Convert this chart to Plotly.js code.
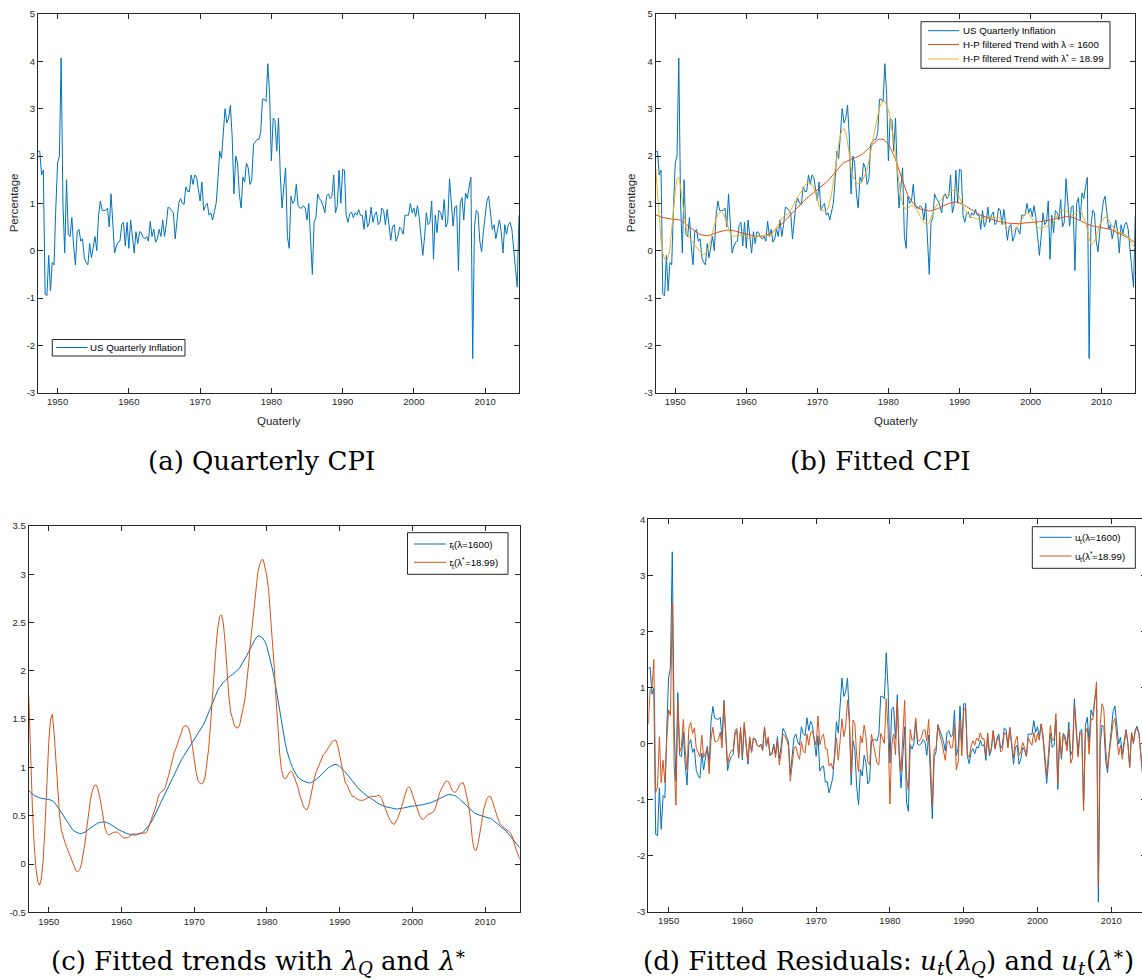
<!DOCTYPE html>
<html>
<head>
<meta charset="utf-8">
<script src="https://cdn.plot.ly/plotly-3.0.1.min.js"></script>
<style>
  html, body { margin: 0; padding: 0; overflow: hidden; background: #ffffff; }
  #fig { width: 1160px; height: 980px; }
</style>
</head>
<body>
<div id="fig"></div>
<script>
// US quarterly CPI inflation (%), 1947Q2 .. 2014Q4, one row per year
const inflation = [
  2.1, 2.1, 1.6,
  1.7, -0.92, -0.95, -0.1,
  -0.85, -0.25, -0.3, 0.9,
  1.85, 2.0, 4.07, 1.0,
  -0.05, 1.5, 0.35, 0.3,
  0.7, 0.1, -0.3, 0.4,
  0.45, 0.2, 0.25, -0.15,
  -0.25, -0.3, 0.15, -0.15,
  0.05, 0.3, 0.0, 0.75,
  1.05, 0.85, 0.85, 0.85,
  0.9, 0.5, 1.2, 0.6,
  -0.05, 0.1, 0.18, 0.2,
  0.55, 0.6, 0.1, 0.6,
  0.05, 0.65, 0.3, -0.05,
  0.4, 0.15, 0.4, 0.38,
  0.28, 0.25, 0.3, 0.2,
  0.62, 0.3, 0.45, 0.18,
  0.25, 0.45, 0.3, 0.65,
  0.3, 0.55, 0.92, 0.9,
  0.85, 0.8, 0.25, 0.6,
  1.0, 1.1, 1.0, 0.98,
  1.35, 1.25, 1.25, 1.6,
  1.4, 1.6, 1.55, 1.3,
  1.05, 1.45, 0.85, 0.95,
  1.0, 0.75, 0.8, 0.65,
  0.85, 1.0, 1.5, 2.1,
  1.95, 2.5, 3.0, 2.7,
  2.8, 3.07, 2.4, 1.2,
  2.0, 1.85, 1.2, 0.9,
  1.55, 1.45, 1.85, 1.75,
  1.4, 1.5, 2.25, 2.3,
  2.35, 2.35, 2.5, 3.2,
  3.2, 3.15, 3.95, 3.3,
  1.9, 2.8, 2.75, 2.1,
  2.8, 1.6, 0.9, 1.35,
  1.75, 0.3, 0.05, 1.15,
  1.0, 1.05, 1.4, 0.95,
  0.9, 0.9, 0.95, 0.9,
  0.65, 1.0, 0.3, -0.5,
  0.6, 0.7, 1.2, 1.1,
  1.05, 0.95, 0.8, 1.15,
  1.2, 1.1, 1.15, 1.6,
  0.8, 0.95, 1.7, 1.0,
  1.72, 1.7, 0.75, 0.6,
  0.78, 0.82, 0.7, 0.8,
  0.75, 0.87, 0.75, 0.75,
  0.45, 0.85, 0.5, 0.6,
  0.92, 0.6, 0.75, 0.82,
  0.55, 0.6, 0.9, 0.85,
  0.55, 0.87, 0.55, 0.22,
  0.5, 0.55, 0.2, 0.3,
  0.5, 0.45, 0.35, 0.75,
  0.75, 0.75, 1.0, 0.8,
  0.9, 0.72, 0.95, 0.7,
  0.3, -0.1, 0.3, 0.8,
  0.55, 0.6, 1.05, -0.18,
  0.75, 0.38, 0.85, 0.8,
  0.65, 1.08, 0.5, 0.6,
  1.52, 1.0, 0.52, 0.92,
  0.95, -0.42, 1.0, 1.12,
  0.65, 1.22, 1.1, 1.35,
  1.55, -2.28, 0.5, 0.85,
  0.8, 0.2, -0.02, 0.4,
  0.8, 1.05, 1.15, 0.8,
  0.45, 0.55, 0.25, 0.45,
  0.65, 0.4, -0.05, 0.55,
  0.35, 0.55, 0.6, 0.45,
  0.0, -0.45, -0.77, 0.75
];

// H-P trend, lambda = 1600
const trend1600 = [
  0.76, 0.74, 0.72,
  0.71, 0.70, 0.69, 0.685,
  0.68, 0.675, 0.67, 0.67,
  0.67, 0.665, 0.655, 0.64,
  0.62, 0.59, 0.56, 0.53,
  0.50, 0.47, 0.44, 0.41,
  0.38, 0.36, 0.34, 0.33,
  0.32, 0.315, 0.315, 0.32,
  0.33, 0.345, 0.36, 0.375,
  0.39, 0.40, 0.415, 0.425,
  0.43, 0.435, 0.435, 0.435,
  0.43, 0.42, 0.41, 0.40,
  0.39, 0.375, 0.36, 0.35,
  0.34, 0.33, 0.32, 0.315,
  0.31, 0.305, 0.30, 0.30,
  0.30, 0.305, 0.31, 0.32,
  0.33, 0.35, 0.37, 0.395,
  0.42, 0.455, 0.49, 0.53,
  0.57, 0.61, 0.65, 0.69,
  0.73, 0.77, 0.81, 0.85,
  0.89, 0.93, 0.97, 1.01,
  1.05, 1.08, 1.11, 1.14,
  1.17, 1.20, 1.23, 1.255,
  1.28, 1.31, 1.34, 1.37,
  1.40, 1.44, 1.48, 1.525,
  1.57, 1.62, 1.67, 1.715,
  1.76, 1.80, 1.83, 1.86,
  1.88, 1.90, 1.92, 1.935,
  1.95, 1.96, 1.975, 1.99,
  2.01, 2.03, 2.06, 2.09,
  2.12, 2.16, 2.20, 2.24,
  2.28, 2.31, 2.34, 2.36,
  2.36, 2.35, 2.33, 2.30,
  2.25, 2.18, 2.10, 2.02,
  1.93, 1.81, 1.69, 1.57,
  1.45, 1.35, 1.26, 1.17,
  1.10, 1.05, 1.00, 0.96,
  0.93, 0.90, 0.88, 0.87,
  0.86, 0.85, 0.845, 0.84,
  0.84, 0.85, 0.86, 0.875,
  0.89, 0.91, 0.93, 0.95,
  0.97, 0.985, 1.0, 1.01,
  1.02, 1.03, 1.03, 1.025,
  1.01, 0.995, 0.975, 0.955,
  0.93, 0.905, 0.88, 0.855,
  0.83, 0.81, 0.79, 0.77,
  0.75, 0.735, 0.72, 0.705,
  0.69, 0.68, 0.67, 0.655,
  0.64, 0.63, 0.62, 0.61,
  0.60, 0.595, 0.59, 0.585,
  0.58, 0.575, 0.57, 0.57,
  0.57, 0.57, 0.575, 0.58,
  0.585, 0.59, 0.595, 0.60,
  0.60, 0.60, 0.605, 0.61,
  0.61, 0.61, 0.615, 0.62,
  0.62, 0.625, 0.63, 0.64,
  0.65, 0.66, 0.67, 0.68,
  0.69, 0.70, 0.71, 0.715,
  0.72, 0.72, 0.715, 0.71,
  0.70, 0.69, 0.67, 0.655,
  0.64, 0.62, 0.60, 0.58,
  0.56, 0.545, 0.53, 0.52,
  0.51, 0.505, 0.50, 0.495,
  0.49, 0.485, 0.48, 0.47,
  0.46, 0.445, 0.43, 0.415,
  0.40, 0.385, 0.365, 0.35,
  0.33, 0.31, 0.29, 0.265,
  0.24, 0.215, 0.19, 0.17
];

// H-P trend, lambda* = 18.99
const trend1899 = [
  1.75, 1.15, 0.6,
  0.2, -0.05, -0.18, -0.22,
  -0.15, 0.05, 0.4, 0.85,
  1.25, 1.5, 1.55, 1.35,
  1.05, 0.75, 0.5, 0.35,
  0.27, 0.22, 0.17, 0.12,
  0.07, 0.02, -0.03, -0.07,
  -0.08, -0.06, 0.0, 0.1,
  0.22, 0.38, 0.54, 0.67,
  0.76, 0.81, 0.82, 0.78,
  0.7, 0.58, 0.46, 0.37,
  0.32, 0.3, 0.31, 0.32,
  0.33, 0.33, 0.33, 0.31,
  0.29, 0.27, 0.27, 0.27,
  0.28, 0.3, 0.31, 0.31,
  0.31, 0.31, 0.32, 0.32,
  0.32, 0.32, 0.33, 0.38,
  0.44, 0.5, 0.55, 0.6,
  0.68, 0.73, 0.75, 0.76,
  0.79, 0.85, 0.92, 1.0,
  1.08, 1.15, 1.2, 1.26,
  1.32, 1.38, 1.42, 1.43,
  1.43, 1.4, 1.33, 1.22,
  1.08, 0.96, 0.87, 0.84,
  0.83, 0.84, 0.9, 1.05,
  1.2, 1.45, 1.75, 2.0,
  2.25, 2.45, 2.56, 2.58,
  2.5, 2.3, 2.0, 1.75,
  1.58, 1.5, 1.44, 1.41,
  1.41, 1.44, 1.52, 1.62,
  1.72, 1.88, 2.08, 2.3,
  2.5, 2.7, 2.88, 3.02,
  3.1, 3.15, 3.15, 3.05,
  2.98, 2.82, 2.58, 2.3,
  2.05, 1.72, 1.4, 1.15,
  0.98, 0.9, 0.88, 0.9,
  0.94, 0.96, 0.95, 0.9,
  0.85, 0.8, 0.72, 0.65,
  0.6, 0.57, 0.56, 0.6,
  0.7, 0.8, 0.88, 0.95,
  1.0, 1.05, 1.1, 1.13,
  1.15, 1.18, 1.22, 1.25,
  1.27, 1.28, 1.28, 1.22,
  1.13, 1.05, 0.95, 0.85,
  0.82, 0.77, 0.73, 0.7,
  0.7, 0.68, 0.67, 0.66,
  0.66, 0.66, 0.67, 0.68,
  0.69, 0.7, 0.7, 0.7,
  0.7, 0.71, 0.71, 0.68,
  0.63, 0.58, 0.52, 0.48,
  0.45, 0.42, 0.41, 0.44,
  0.48, 0.53, 0.58, 0.65,
  0.72, 0.78, 0.8, 0.78,
  0.72, 0.66, 0.6, 0.54,
  0.5, 0.47, 0.46, 0.48,
  0.5, 0.52, 0.52, 0.54,
  0.55, 0.6, 0.68, 0.74,
  0.78, 0.82, 0.85, 0.86,
  0.85, 0.8, 0.76, 0.74,
  0.75, 0.78, 0.82, 0.84,
  0.84, 0.78, 0.68, 0.6,
  0.45, 0.25, 0.15, 0.14,
  0.2, 0.3, 0.42, 0.55,
  0.63, 0.68, 0.7, 0.7,
  0.65, 0.58, 0.53, 0.47,
  0.42, 0.4, 0.38, 0.36,
  0.35, 0.34, 0.32, 0.28,
  0.2, 0.15, 0.1, 0.05
];

// cyclical residuals u_t, lambda = 1600
const resid1600 = [
  1.34, 1.36, 0.88,
  0.99, -1.62, -1.64, -0.79,
  -1.53, -0.93, -0.97, 0.23,
  1.18, 1.34, 3.42, 0.36,
  -0.67, 0.91, -0.21, -0.23,
  0.2, -0.37, -0.74, -0.01,
  0.07, -0.16, -0.09, -0.48,
  -0.57, -0.62, -0.17, -0.47,
  -0.28, -0.05, -0.36, 0.38,
  0.66, 0.45, 0.44, 0.43,
  0.47, 0.07, 0.77, 0.17,
  -0.48, -0.32, -0.23, -0.2,
  0.16, 0.23, -0.26, 0.25,
  -0.29, 0.32, -0.02, -0.37,
  0.09, -0.16, 0.1, 0.08,
  -0.02, -0.06, -0.01, -0.12,
  0.29, -0.05, 0.08, -0.22,
  -0.17, -0.01, -0.19, 0.12,
  -0.27, -0.06, 0.27, 0.21,
  0.12, 0.03, -0.56, -0.25,
  0.11, 0.17, 0.03, -0.03,
  0.3, 0.17, 0.14, 0.46,
  0.23, 0.4, 0.32, 0.05,
  -0.23, 0.14, -0.49, -0.42,
  -0.4, -0.69, -0.68, -0.88,
  -0.72, -0.62, -0.17, 0.39,
  0.19, 0.7, 1.17, 0.84,
  0.92, 1.17, 0.48, -0.74,
  0.05, -0.11, -0.78, -1.09,
  -0.46, -0.58, -0.21, -0.34,
  -0.72, -0.66, 0.05, 0.06,
  0.07, 0.04, 0.16, 0.84,
  0.84, 0.8, 1.62, 1.0,
  -0.35, 0.62, 0.65, 0.08,
  0.87, -0.21, -0.79, -0.22,
  0.3, -1.05, -1.21, -0.02,
  -0.1, 0.0, 0.4, -0.01,
  -0.03, 0.0, 0.07, 0.03,
  -0.21, 0.15, -0.55, -1.34,
  -0.24, -0.15, 0.34, 0.23,
  0.16, 0.04, -0.13, 0.2,
  0.23, 0.12, 0.15, 0.59,
  -0.22, -0.08, 0.67, -0.03,
  0.71, 0.71, -0.23, -0.36,
  -0.15, -0.09, -0.18, -0.06,
  -0.08, 0.06, -0.04, -0.02,
  -0.3, 0.12, -0.22, -0.11,
  0.23, -0.08, 0.08, 0.17,
  -0.09, -0.03, 0.28, 0.24,
  -0.05, 0.28, -0.04, -0.37,
  -0.08, -0.03, -0.37, -0.27,
  -0.07, -0.12, -0.23, 0.17,
  0.17, 0.16, 0.41, 0.2,
  0.3, 0.12, 0.35, 0.09,
  -0.31, -0.71, -0.32, 0.18,
  -0.07, -0.03, 0.42, -0.82,
  0.1, -0.28, 0.18, 0.12,
  -0.04, 0.38, -0.21, -0.12,
  0.8, 0.28, -0.2, 0.21,
  0.25, -1.11, 0.33, 0.47,
  0.01, 0.6, 0.5, 0.77,
  0.99, -2.83, -0.03, 0.33,
  0.29, -0.31, -0.52, -0.1,
  0.31, 0.57, 0.67, 0.33,
  -0.01, 0.11, -0.18, 0.04,
  0.25, 0.02, -0.42, 0.2,
  0.02, 0.24, 0.31, 0.19,
  -0.24, -0.67, -0.96, 0.58
];

// cyclical residuals u_t, lambda* = 18.99
const resid1899 = [
  0.35, 0.95, 1.0,
  1.5, -0.87, -0.77, 0.12,
  -0.7, -0.3, -0.7, 0.05,
  0.6, 0.5, 2.52, -0.35,
  -1.1, 0.75, -0.15, -0.05,
  0.43, -0.12, -0.47, 0.28,
  0.38, 0.18, 0.28, -0.08,
  -0.17, -0.24, 0.15, -0.25,
  -0.17, -0.08, -0.54, 0.08,
  0.29, 0.04, 0.03, 0.07,
  0.2, -0.08, 0.74, 0.23,
  -0.37, -0.2, -0.13, -0.12,
  0.22, 0.27, -0.23, 0.29,
  -0.24, 0.38, 0.03, -0.32,
  0.12, -0.15, 0.09, 0.07,
  -0.03, -0.06, -0.02, -0.12,
  0.3, -0.02, 0.12, -0.2,
  -0.19, -0.05, -0.25, 0.05,
  -0.38, -0.18, 0.17, 0.14,
  0.06, -0.05, -0.67, -0.4,
  -0.08, -0.05, -0.2, -0.28,
  0.03, -0.13, -0.17, 0.17,
  -0.03, 0.2, 0.22, 0.08,
  -0.03, 0.49, -0.02, 0.11,
  0.17, -0.09, -0.1, -0.4,
  -0.35, -0.45, -0.25, 0.1,
  -0.3, 0.05, 0.44, 0.12,
  0.3, 0.77, 0.4, -0.55,
  0.42, 0.35, -0.24, -0.51,
  0.14, 0.01, 0.33, 0.13,
  -0.32, -0.38, 0.17, 0.0,
  -0.15, -0.35, -0.38, 0.18,
  0.1, 0.0, 0.8, 0.25,
  -1.08, -0.02, 0.17, -0.2,
  0.75, -0.12, -0.5, 0.2,
  0.77, -0.6, -0.83, 0.25,
  0.06, 0.09, 0.45, 0.05,
  0.05, 0.1, 0.23, 0.25,
  0.05, 0.43, -0.26, -1.1,
  -0.1, -0.1, 0.32, 0.15,
  0.05, -0.1, -0.3, 0.02,
  0.05, -0.08, -0.07, 0.35,
  -0.47, -0.33, 0.42, -0.22,
  0.59, 0.65, -0.2, -0.25,
  -0.04, 0.05, -0.03, 0.1,
  0.05, 0.19, 0.08, 0.09,
  -0.21, 0.19, -0.17, -0.08,
  0.23, -0.1, 0.05, 0.12,
  -0.15, -0.11, 0.19, 0.17,
  -0.08, 0.29, 0.03, -0.26,
  0.05, 0.13, -0.21, -0.14,
  0.02, -0.08, -0.23, 0.1,
  0.03, -0.03, 0.2, 0.02,
  0.18, 0.06, 0.35, 0.16,
  -0.2, -0.57, -0.16, 0.32,
  0.05, 0.08, 0.53, -0.72,
  0.2, -0.22, 0.17, 0.06,
  -0.13, 0.26, -0.35, -0.26,
  0.67, 0.2, -0.24, 0.18,
  0.2, -1.2, 0.18, 0.28,
  -0.19, 0.44, 0.42, 0.75,
  1.1, -2.53, 0.35, 0.71,
  0.6, -0.1, -0.44, -0.15,
  0.17, 0.37, 0.45, 0.1,
  -0.2, -0.03, -0.28, -0.02,
  0.23, 0.0, -0.43, 0.19,
  0.0, 0.21, 0.28, 0.17,
  -0.2, -0.6, -0.87, 0.7
];

// axis ticks
const yearTicks = [1950, 1960, 1970, 1980, 1990, 2000, 2010];
const yearLabels = ['1950', '1960', '1970', '1980', '1990', '2000', '2010'];
const cpiTicks = [-3, -2, -1, 0, 1, 2, 3, 4, 5];
const cpiLabels = ['-3', '-2', '-1', '0', '1', '2', '3', '4', '5'];
const trendTicks = [-0.5, 0, 0.5, 1, 1.5, 2, 2.5, 3, 3.5];
const trendLabels = ['-0.5', '0', '0.5', '1', '1.5', '2', '2.5', '3', '3.5'];
const residTicks = [-3, -2, -1, 0, 1, 2, 3, 4];
const residLabels = ['-3', '-2', '-1', '0', '1', '2', '3', '4'];

// quarter dates, 1947Q2 onwards
const quarters = inflation.map((_, k) => 1947.25 + k * 0.25);
const xRange = [1947.25, 2014.75];

const BLUE = '#0072BD', ORANGE = '#D95319', YELLOW = '#EDB120', INK = '#262626';
const W = 1160, H = 980;
const px = v => v / W;
const py = v => 1 - v / H;

const SANS = 'Liberation Sans';
const SERIF = 'DejaVu Serif';
const tickFont = { family: SANS + ', Arial, sans-serif', size: 9.5, color: INK };
const axBase = {
  showline: true, linecolor: INK, linewidth: 1, mirror: 'allticks',
  ticks: 'inside', ticklen: 5, tickwidth: 1, tickcolor: INK,
  showgrid: false, zeroline: false, tickfont: tickFont, fixedrange: true
};
const xAxis = (dom, anchor) => Object.assign({}, axBase, {
  domain: dom, range: xRange, tickmode: 'array', tickvals: yearTicks, ticktext: yearLabels, anchor: anchor
});
const yAxis = (dom, anchor, range, vals, labels) => Object.assign({}, axBase, {
  domain: dom, range: range, tickmode: 'array', tickvals: vals, ticktext: labels, anchor: anchor
});

const line = (x, y, xa, ya, color) => ({
  x: x, y: y, xaxis: xa, yaxis: ya, type: 'scatter', mode: 'lines',
  line: { color: color, width: 1 }, showlegend: false, hoverinfo: 'skip'
});

const traces = [
  line(quarters, inflation, 'x', 'y', BLUE),
  line(quarters, inflation, 'x2', 'y2', BLUE),
  line(quarters, trend1600, 'x2', 'y2', ORANGE),
  line(quarters, trend1899, 'x2', 'y2', YELLOW),
  line(quarters, trend1600, 'x3', 'y3', BLUE),
  line(quarters, trend1899, 'x3', 'y3', ORANGE),
  line(quarters, resid1600, 'x4', 'y4', BLUE),
  line(quarters, resid1899, 'x4', 'y4', ORANGE)
];

const shapes = [];
const annotations = [];

// Text runs with sub/superscripts: every piece becomes its own sized annotation,
// placed side by side using canvas text metrics.
const measure = document.createElement('canvas').getContext('2d');
function textWidth(t, size, family, italic) {
  measure.font = (italic ? 'italic ' : '') + size + 'px "' + family + '"';
  return measure.measureText(t).width;
}
const K = 0.346; // baseline offset from the vertical middle of a text box, in em
function richLine(pieces, opt) {
  const S = opt.size;
  const items = pieces.map(p => {
    const q = typeof p === 'string' ? { t: p } : p;
    const lvl = q.sub ? -1 : (q.sup ? 1 : 0);
    const size = lvl ? Math.round(S * 0.7 * 10) / 10 : S;
    return { t: q.t, it: !!q.it, lvl: lvl, size: size, w: textWidth(q.t, size, opt.family, !!q.it) };
  });
  const total = items.reduce((a, b) => a + b.w, 0);
  let cx = opt.align === 'center' ? opt.x - total / 2 : opt.x;
  const base = opt.y + K * S;
  items.forEach(it => {
    const shown = it.t.trim();
    const lead = it.t.length - it.t.replace(/^\s+/, '').length;
    const leadW = lead ? textWidth(it.t.slice(0, lead), it.size, opt.family, it.it) : 0;
    if (shown) {
      const bl = base + (it.lvl === -1 ? opt.subShift * S : it.lvl === 1 ? -opt.supShift * S : 0);
      annotations.push({
        xref: 'paper', yref: 'paper', x: px(cx + leadW), y: py(bl - K * it.size),
        xanchor: 'left', yanchor: 'middle', showarrow: false, borderpad: 0, borderwidth: 0,
        text: shown,
        font: { family: opt.family, size: it.size, color: opt.color, style: it.it ? 'italic' : 'normal' }
      });
    }
    cx += it.w;
  });
}

// boxed legends
const legendText = { family: SANS, size: 9.7, color: '#000000', align: 'left', subShift: 0.28, supShift: 0.38 };
function legend(box, lineX, textX, items) {
  shapes.push({ type: 'rect', xref: 'paper', yref: 'paper',
    x0: px(box[0]), x1: px(box[2]), y0: py(box[3]), y1: py(box[1]),
    line: { color: INK, width: 1 }, fillcolor: '#ffffff' });
  items.forEach(it => {
    shapes.push({ type: 'line', xref: 'paper', yref: 'paper',
      x0: px(lineX[0]), x1: px(lineX[1]), y0: py(it.y), y1: py(it.y),
      line: { color: it.color, width: 1 } });
    richLine(it.text, Object.assign({}, legendText, { x: textX, y: it.y }));
  });
}
legend([52.3, 339.5, 185, 356], [56, 87.5], 90, [
  { y: 347.5, color: BLUE, text: ['US Quarterly Inflation'] }
]);
legend([921, 21.7, 1110, 68.3], [928, 959], 962.5, [
  { y: 30.7, color: BLUE, text: ['US Quarterly Inflation'] },
  { y: 44.5, color: ORANGE, text: ['H-P filtered Trend with λ = 1600'] },
  { y: 59, color: YELLOW, text: ['H-P filtered Trend with λ', { t: '*', sup: true }, ' = 18.99'] }
]);
legend([407.5, 532.7, 508, 574.3], [414, 446], 448.5, [
  { y: 544, color: BLUE, text: [{ t: 'τ', it: true }, { t: 't', sub: true }, '(λ=1600)'] },
  { y: 562.3, color: ORANGE, text: [{ t: 'τ', it: true }, { t: 't', sub: true }, '(λ', { t: '*', sup: true }, '=18.99)'] }
]);
legend([1032.3, 526.7, 1135.3, 568.3], [1039.5, 1071.7], 1074.5, [
  { y: 537.3, color: BLUE, text: ['u', { t: 't', sub: true }, '(λ=1600)'] },
  { y: 556, color: ORANGE, text: ['u', { t: 't', sub: true }, '(λ', { t: '*', sup: true }, '=18.99)'] }
]);

// axis titles
const titleFont = { family: SANS + ', Arial, sans-serif', size: 11.5, color: INK };
function label(x, y, text, angle) {
  annotations.push({ xref: 'paper', yref: 'paper', x: px(x), y: py(y), xanchor: 'center', yanchor: 'middle',
    showarrow: false, text: text, textangle: angle || 0, font: titleFont });
}
label(14.3, 203, 'Percentage', -90);
label(631.3, 203, 'Percentage', -90);
label(278.5, 421, 'Quaterly');
label(895.5, 421, 'Quaterly');

// sub-figure captions
const capText = { family: SERIF, size: 26, color: '#000000', align: 'center', subShift: 0.2, supShift: 0.38 };
richLine(['(a) Quarterly CPI'], Object.assign({}, capText, { x: 262, y: 461 }));
richLine(['(b) Fitted CPI'], Object.assign({}, capText, { x: 880, y: 461 }));
richLine(['(c) Fitted trends with ', { t: 'λ', it: true }, { t: 'Q', it: true, sub: true },
  ' and ', { t: 'λ', it: true }, { t: '∗', sup: true }], Object.assign({}, capText, { x: 259, y: 961 }));
richLine(['(d) Fitted Residuals: ', { t: 'u', it: true }, { t: 't', it: true, sub: true }, '(',
  { t: 'λ', it: true }, { t: 'Q', it: true, sub: true }, ') and ', { t: 'u', it: true },
  { t: 't', it: true, sub: true }, '(', { t: 'λ', it: true }, { t: '∗', sup: true }, ')'],
  Object.assign({}, capText, { x: 889, y: 961 }));

const layout = {
  width: W, height: H,
  margin: { l: 0, r: 0, t: 0, b: 0, pad: 0 },
  paper_bgcolor: '#ffffff', plot_bgcolor: '#ffffff',
  showlegend: false,
  xaxis: xAxis([px(38), px(519)], 'y'),
  yaxis: yAxis([py(392.7), py(14)], 'x', [-3, 5], cpiTicks, cpiLabels),
  xaxis2: xAxis([px(655.7), px(1135.3)], 'y2'),
  yaxis2: yAxis([py(392.7), py(14)], 'x2', [-3, 5], cpiTicks, cpiLabels),
  xaxis3: xAxis([px(28.7), px(519.7)], 'y3'),
  yaxis3: yAxis([py(912.3), py(526)], 'x3', [-0.5, 3.5], trendTicks, trendLabels),
  xaxis4: xAxis([px(648.3), px(1146.3)], 'y4'),
  yaxis4: yAxis([py(911.7), py(519.3)], 'x4', [-3, 4], residTicks, residLabels),
  shapes: shapes,
  annotations: annotations
};

Plotly.newPlot('fig', traces, layout, { staticPlot: true });
</script>
</body>
</html>
